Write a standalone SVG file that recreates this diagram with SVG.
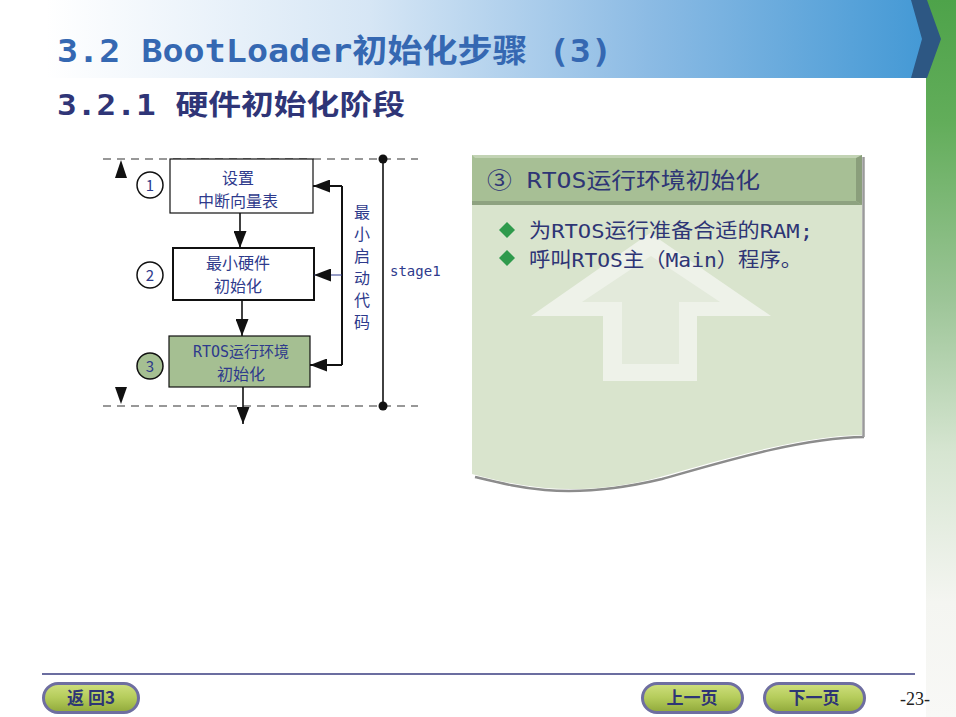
<svg xmlns="http://www.w3.org/2000/svg" width="956" height="717" viewBox="0 0 956 717">
<defs>
<linearGradient id="band" x1="0" y1="0" x2="925" y2="0" gradientUnits="userSpaceOnUse">
<stop offset="0" stop-color="#ffffff"/>
<stop offset="0.05" stop-color="#ffffff"/>
<stop offset="0.4" stop-color="#d6e6f5"/>
<stop offset="0.7" stop-color="#8cbbe4"/>
<stop offset="1" stop-color="#4499d5"/>
</linearGradient>
<linearGradient id="strip" x1="0" y1="0" x2="0" y2="717" gradientUnits="userSpaceOnUse">
<stop offset="0" stop-color="#4ea34a"/>
<stop offset="0.17" stop-color="#62ad5a"/>
<stop offset="0.42" stop-color="#9dc598"/>
<stop offset="0.63" stop-color="#d6e5d1"/>
<stop offset="0.84" stop-color="#f4f5f1"/>
<stop offset="1" stop-color="#f8f8f6"/>
</linearGradient>
<linearGradient id="btn" x1="0" y1="0" x2="0" y2="1">
<stop offset="0" stop-color="#cfe07e"/>
<stop offset="0.5" stop-color="#b4cb5a"/>
<stop offset="1" stop-color="#8fa83a"/>
</linearGradient>
<marker id="ah" viewBox="0 0 17 13" refX="17" refY="6.5" markerWidth="17" markerHeight="13" markerUnits="userSpaceOnUse" orient="auto">
<path d="M0,0 L17,6.5 L0,13 Z" fill="#111"/>
</marker>
</defs>
<style>
.t{font-family:"DejaVu Sans Mono","Noto Sans CJK SC",monospace;fill:#2e3a8c}
.c{font-family:"Noto Sans CJK SC","DejaVu Sans",sans-serif;fill:#2e3a8c}
.box{stroke:#111;stroke-width:1.2}
.dash{stroke:#333;stroke-width:1.2;stroke-dasharray:8 6;fill:none}
.ln{stroke:#111;stroke-width:1.6;fill:none}
.circ{stroke:#111;stroke-width:1.5}
.bt{font-family:"Noto Sans CJK SC",sans-serif;font-weight:bold;font-size:17px;fill:#2e3575;text-anchor:middle}
.pill{fill:url(#btn);stroke:#6e6ea0;stroke-width:3}
</style>
<rect width="956" height="717" fill="#ffffff"/>
<!-- header band -->
<rect x="0" y="0" width="926" height="78" fill="url(#band)"/>
<rect x="926" y="0" width="30" height="717" fill="url(#strip)"/>
<polygon points="911,0 927,0 941,39 927,78 911,78 922,39" fill="#2d5783"/>
<text x="57" y="62" font-family="'DejaVu Sans Mono','Noto Sans CJK SC',monospace" font-weight="bold" font-size="32" fill="#3568b2" textLength="555" lengthAdjust="spacingAndGlyphs">3.2 BootLoader初始化步骤 (3)</text>
<text x="57" y="115" font-family="'DejaVu Sans Mono','Noto Sans CJK SC',monospace" font-weight="bold" font-size="28" fill="#2f3577" textLength="348" lengthAdjust="spacingAndGlyphs">3.2.1 硬件初始化阶段</text>

<!-- flow diagram -->
<g id="guides">
<line class="dash" x1="103" y1="159" x2="418" y2="159"/>
<line class="dash" x1="103" y1="406" x2="418" y2="406"/>
<polygon points="115,178 127,178 121,160" fill="#111"/>
<polygon points="115,387 127,387 121,404" fill="#111"/>
</g>
<g id="stage1">
<line x1="383" y1="159" x2="383" y2="406" stroke="#111" stroke-width="1.6"/>
<circle cx="383" cy="159" r="4.5" fill="#111"/>
<circle cx="383" cy="406" r="4.5" fill="#111"/>
<text class="t" x="390" y="276" font-size="14">stage1</text>
</g>
<g id="node1">
<rect class="box" x="170" y="159" width="143" height="54" fill="#ffffff"/>
<text class="c" x="238" y="184" font-size="16" text-anchor="middle">设置</text>
<text class="c" x="238" y="207" font-size="16" text-anchor="middle">中断向量表</text>
<circle class="circ" cx="150" cy="185" r="13" fill="#ffffff"/>
<text class="c" x="150" y="191" font-size="15" text-anchor="middle">1</text>
</g>
<g id="node2">
<rect x="173" y="248" width="141" height="52" fill="#ffffff" stroke="#111" stroke-width="2"/>
<text class="c" x="238" y="269" font-size="16" text-anchor="middle">最小硬件</text>
<text class="c" x="238" y="292" font-size="16" text-anchor="middle">初始化</text>
<circle class="circ" cx="150" cy="275" r="13" fill="#ffffff"/>
<text class="c" x="150" y="281" font-size="15" text-anchor="middle">2</text>
</g>
<g id="node3">
<rect class="box" x="169" y="336" width="141" height="51" fill="#a5bf92"/>
<text class="t" x="241" y="357" font-size="15" text-anchor="middle">RTOS运行环境</text>
<text class="c" x="241" y="380" font-size="16" text-anchor="middle">初始化</text>
<circle class="circ" cx="150" cy="366" r="13" fill="#a5bf92"/>
<text class="c" x="150" y="372" font-size="15" text-anchor="middle">3</text>
</g>
<g id="loop-label">
<text class="c" font-size="16" text-anchor="middle"><tspan x="362" y="218">最</tspan><tspan x="362" y="240">小</tspan><tspan x="362" y="262">启</tspan><tspan x="362" y="284">动</tspan><tspan x="362" y="306">代</tspan><tspan x="362" y="328">码</tspan></text>
</g>
<g id="connectors">
<line class="ln" x1="240" y1="213" x2="240" y2="248" marker-end="url(#ah)"/>
<line class="ln" x1="242" y1="300" x2="242" y2="336" marker-end="url(#ah)"/>
<line class="ln" x1="243" y1="387" x2="243" y2="424" marker-end="url(#ah)"/>
<polyline points="342,186 342,365" fill="none" stroke="#111" stroke-width="2"/>
<line x1="342" y1="186" x2="313" y2="186" stroke="#111" stroke-width="2" marker-end="url(#ah)"/>
<line x1="342" y1="275" x2="314" y2="275" stroke="#2e3a8c" stroke-width="1" marker-end="url(#ah)"/>
<line x1="342" y1="365" x2="310" y2="365" stroke="#111" stroke-width="2" marker-end="url(#ah)"/>
</g>

<!-- right panel -->
<g id="panel">
<path d="M475,477 C500,483 520,488 545,490 C580,493 620,489 662,479 C722,462 800,438 864,437" fill="none" stroke="#8c8c8c" stroke-width="2.5"/>
<line x1="863.5" y1="157" x2="863.5" y2="437" stroke="#9a9a9a" stroke-width="2.5"/>
<path d="M472,155 L862,155 L862,435 C800,436 720,460 660,477 C620,488 580,491 545,488 C515,485 495,480 472,474 Z" fill="#d9e4cd"/>
<polygon points="650,233 771,316 697,316 697,381 603,381 603,316 531,316" fill="#eef2e9"/>
<polygon points="651,256 720,302 679,302 679,364 622,364 622,302 582,302" fill="#e3eadb"/>
<rect x="472" y="155" width="390" height="50" fill="#a7bf95"/>
<polygon points="472,155 862,155 858,158 475,158" fill="#c2d3b4"/>
<polygon points="862,155 862,205 856,201 856,158" fill="#8a9e7b"/>
<polygon points="472,205 862,205 856,201 472,201" fill="#8ea280"/>
<text class="t" x="487" y="188" font-size="22" textLength="273" lengthAdjust="spacingAndGlyphs" style="fill:#2e3575">③ RTOS运行环境初始化</text>
<polygon points="507,222 515,230 507,238 499,230" fill="#2f9a4c"/>
<polygon points="507,250 515,258 507,266 499,258" fill="#2f9a4c"/>
<text class="t" x="529" y="238" font-size="20" textLength="284" lengthAdjust="spacingAndGlyphs" style="fill:#2e3575">为RTOS运行准备合适的RAM;</text>
<text class="t" x="529" y="267" font-size="20" textLength="273" lengthAdjust="spacingAndGlyphs" style="fill:#2e3575">呼叫RTOS主（Main）程序。</text>
</g>

<!-- footer -->
<line x1="42" y1="674" x2="915" y2="674" stroke="#3a3d80" stroke-width="1.5"/>
<g id="btn-back">
<rect class="pill" x="43.5" y="683.5" width="95" height="29" rx="14.5"/>
<text class="bt" x="91" y="704">返 回3</text>
</g>
<g id="btn-prev">
<rect class="pill" x="642.5" y="683.5" width="100" height="29" rx="14.5"/>
<text class="bt" x="692" y="704">上一页</text>
</g>
<g id="btn-next">
<rect class="pill" x="764.5" y="683.5" width="100" height="29" rx="14.5"/>
<text class="bt" x="814" y="704">下一页</text>
</g>
<text x="900" y="705" font-family="'Liberation Serif',serif" font-size="18" fill="#222">-23-</text>
</svg>
